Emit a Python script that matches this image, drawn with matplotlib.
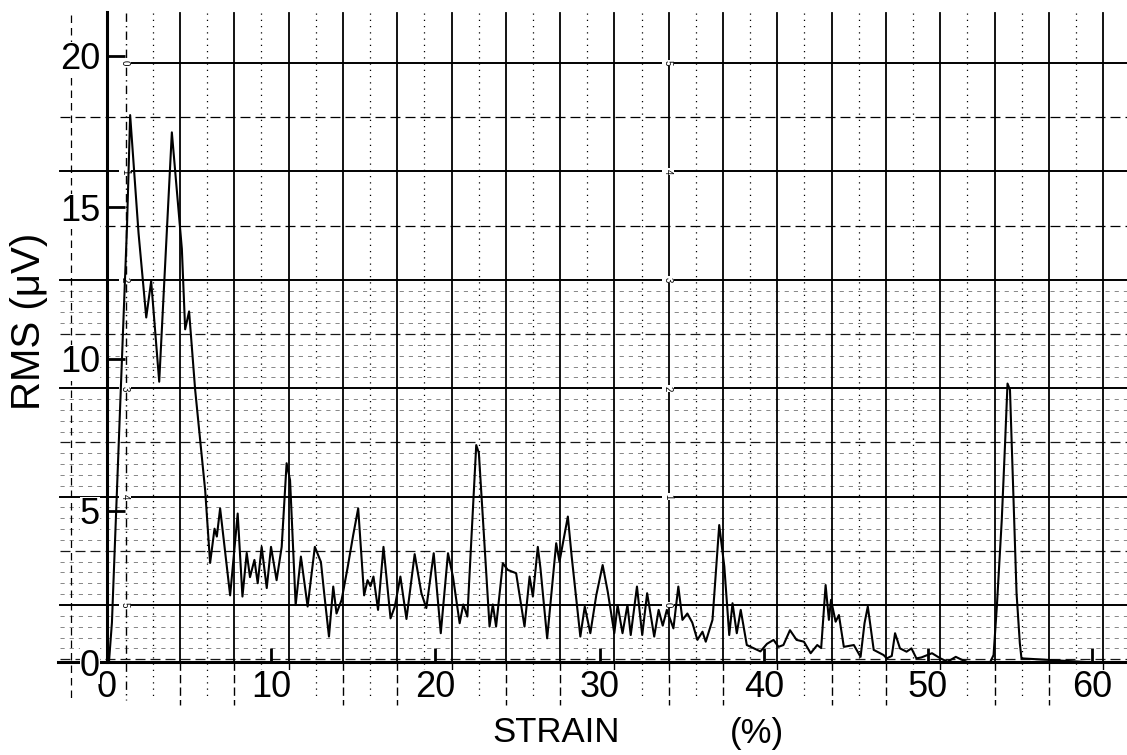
import matplotlib
matplotlib.use("Agg")
import matplotlib.pyplot as plt

plt.rcParams['font.family'] = ['Liberation Sans', 'DejaVu Sans']

# trace
strain = [0.12, 0.3, 1.22, 1.41, 1.92, 2.39, 2.69, 3.18, 3.95, 4.56, 4.76, 5.0, 5.37,
          5.98, 6.28, 6.55, 6.69, 6.89, 7.5, 7.96, 8.25, 8.51, 8.71, 8.98, 9.18, 9.42,
          9.73, 9.99, 10.33, 10.64, 10.94, 11.15, 11.49, 11.81, 12.22, 12.66, 13.03,
          13.23, 13.52, 13.78, 13.98, 14.29, 14.65, 15.0, 15.3, 15.66, 15.87, 16.05,
          16.23, 16.51, 16.84, 17.27, 17.53, 17.87, 18.24, 18.74, 19.15, 19.45, 19.9,
          20.33, 20.77, 21.07, 21.48, 21.7, 21.95, 22.49, 22.65, 23.3, 23.5, 23.7,
          24.11, 24.41, 24.92, 25.43, 25.74, 25.94, 26.24, 26.4, 26.81, 27.36, 27.56,
          28.07, 28.3, 28.83, 29.1, 29.44, 29.8, 30.19, 30.5, 30.9, 31.1, 31.4, 31.7,
          31.9, 32.28, 32.6, 32.9, 33.33, 33.6, 33.85, 34.1, 34.5, 34.8, 35.05, 35.35,
          35.65, 35.96, 36.27, 36.47, 36.88, 37.29, 37.6, 37.9, 38.1, 38.36, 38.6,
          38.97, 39.4, 39.8, 40.2, 40.6, 40.9, 41.2, 41.6, 42.0, 42.45, 42.86, 43.26,
          43.5, 43.77, 43.97, 44.1, 44.38, 44.58, 44.88, 45.49, 45.9, 46.14, 46.34,
          46.7, 47.3, 47.5, 47.8, 48.0, 48.3, 48.7, 49.0, 49.3, 49.6, 50.25, 50.76,
          51.2, 51.7, 52.0, 52.4, 53.8, 54.0, 54.2, 54.5, 54.7, 54.85, 55.0, 55.2,
          55.4, 55.6, 55.7, 59.6]
rms = [0.0, 1.3, 14.4, 18.05, 14.16, 11.37, 12.57, 9.25, 17.48, 13.63, 10.98, 11.57, 8.98,
       5.66, 3.27, 4.4, 4.14, 5.07, 2.2, 4.9, 2.16, 3.6, 2.8, 3.37, 2.6, 3.8,
       2.44, 3.8, 2.7, 3.8, 6.56, 6.0, 1.88, 3.48, 1.83, 3.8, 3.3,
       2.26, 0.84, 2.49, 1.6, 2.05, 3.1, 4.2, 5.07, 2.2, 2.7, 2.5,
       2.82, 1.72, 3.8, 1.44, 1.83, 2.82, 1.42, 3.56, 2.27, 1.78, 3.59,
       0.95, 3.59, 2.82, 1.28, 1.9, 1.5, 7.16, 6.9, 1.17, 1.9, 1.17,
       3.26, 3.04, 2.93, 1.17, 2.82, 2.16, 3.8, 3.1, 0.78, 3.92, 3.31,
       4.8, 3.5, 0.84, 1.83, 0.95, 2.2, 3.2, 2.32, 0.95, 1.88, 0.95, 1.88,
       0.89, 2.49, 0.89, 2.27, 0.84, 1.72, 1.2, 1.72, 1.11, 2.49, 1.39, 1.6,
       1.3, 0.73, 1.0, 0.67, 1.39, 4.52, 3.15, 0.89, 1.94, 0.95, 1.72,
       0.56, 0.45, 0.35, 0.6, 0.73, 0.5, 0.56, 1.05, 0.73, 0.67, 0.29, 0.56,
       0.46, 2.54, 1.39, 2.05, 1.33, 1.55, 0.5, 0.56, 0.17, 1.28, 1.83,
       0.4, 0.23, 0.12, 0.2, 0.95, 0.45, 0.34, 0.45, 0.12, 0.15, 0.29, 0.12,
       0.01, 0.17, 0.09, 0.0, 0.0, 0.23, 1.83, 4.69, 7.2, 9.19, 8.98, 5.57,
       2.27, 0.62, 0.12, 0.0]

xticks = [0, 10, 20, 30, 40, 50, 60]
yticks = [0, 5, 10, 15, 20]
left_marks = ["0", "1", "2", "3", "4", "5"]
right_marks = ["5", "4", "3", "2", "1", "0"]

W, H = 1127, 755
fig = plt.figure(figsize=(W / 100, H / 100), dpi=100)

# chart paper background, drawn in pixel units
paper = fig.add_axes([0, 0, 1, 1])
paper.set_xlim(0, W)
paper.set_ylim(H, 0)
paper.axis("off")

vstep = 54.3
hstep = 108.4
vmaj = [180 + vstep * k for k in range(18)]
for x in vmaj:
    paper.plot([x, x], [13, 662], color="black", lw=1.3)
    paper.plot([x, x], [662, 705], color="black", lw=1.0, ls=(0, (6, 3)))
for x in [125.7 + vstep * k + vstep / 2 for k in range(18)]:
    if x < W:
        paper.plot([x, x], [13, 700], color="black", lw=0.9, ls=(0, (1, 4)))
paper.plot([125.7, 125.7], [13, 700], color="black", lw=1.0, ls=(0, (6, 3, 1, 3)))
paper.plot([71, 71], [15, 700], color="black", lw=0.9, ls=(0, (6, 4)))

hmaj = [63 + hstep * k for k in range(6)]
for i, y in enumerate(hmaj):
    paper.plot([130 if i == 0 else 60, W], [y, y], color="black", lw=1.4)
# half lines in upper bands
for y in [63 + hstep / 2, 63 + 1.5 * hstep]:
    paper.plot([60, W], [y, y], color="black", lw=0.9, ls=(0, (8, 4)))
# denser dashed lines in the lower bands
for b in range(2, 6):
    y0 = 63 + hstep * b
    for j in range(1, 10):
        y = y0 + hstep * j / 10
        if y > 660:
            continue
        heavy = j == 5
        paper.plot([60, W], [y, y], color="black",
                   lw=0.9 if heavy else 0.6,
                   ls=(0, (8, 4)) if heavy else (0, (5, 6)),
                   alpha=0.9 if heavy else 0.55)
paper.plot([58, W], [662, 662], color="black", lw=2.2)

for y, t in zip(hmaj, left_marks):
    paper.text(125, y, t, fontsize=7, rotation=-90, ha="center", va="center",
               bbox=dict(facecolor="white", edgecolor="none", pad=0.5))
for y, t in zip(hmaj, right_marks):
    paper.text(668, y, t, fontsize=7, rotation=-90, ha="center", va="center",
               bbox=dict(facecolor="white", edgecolor="none", pad=0.5))

# data axes
x_px0, y_px0 = 105, 662
sx, sy = 16.45, 30.3
ax = fig.add_axes([107 / W, (H - 662) / H, (W - 107) / W, (662 - 12) / H])
ax.patch.set_alpha(0)
ax.set_xlim((107 - x_px0) / sx, (W - x_px0) / sx)
ax.set_ylim(0, (662 - 12) / sy)

ax.plot(strain, rms, color="black", lw=1.5)

for s in ["top", "right", "bottom"]:
    ax.spines[s].set_visible(False)
ax.spines["left"].set_linewidth(2.2)

ax.set_xticks(xticks)
ax.set_yticks(yticks)
ax.tick_params(axis="x", direction="in", length=10, width=2, pad=6, labelsize=26)
ax.tick_params(axis="y", direction="in", length=13, width=2, pad=5, labelsize=26)
for lab in ax.get_xticklabels() + ax.get_yticklabels():
    lab.set_bbox(dict(facecolor="white", edgecolor="none", pad=0.3))

fig.text(556 / W, 1 - 733 / H, "STRAIN", fontsize=25, ha="center", va="center")
fig.text(757 / W, 1 - 733 / H, "(%)", fontsize=25, ha="center", va="center")
fig.text(29 / W, 1 - 321 / H, "RMS (μV)", fontsize=29, rotation=90,
         ha="center", va="center")

fig.savefig("out.png", dpi=100)
